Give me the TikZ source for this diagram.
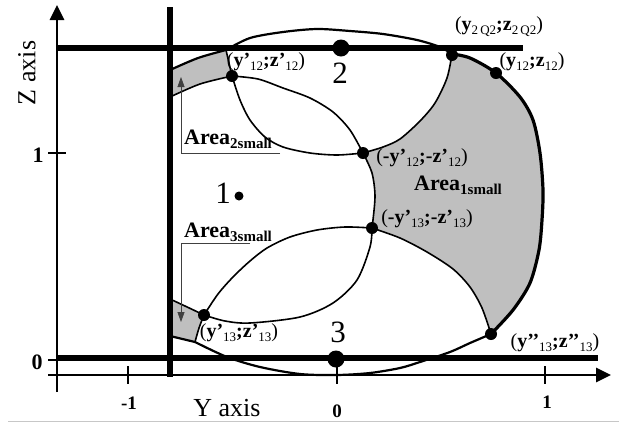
\documentclass[tikz,border=0pt]{standalone}
\usepackage{fontspec}
\setmainfont{Liberation Serif}
\usetikzlibrary{arrows.meta}
\newcommand{\mysb}[2][13]{\raisebox{-4pt}{\fontsize{#1}{#1}\selectfont #2}}
\begin{document}
\begin{tikzpicture}[x=1pt,y=-1pt,
  lbl/.style={font=\fontsize{20}{22}\selectfont, inner sep=0pt},
  bignum/.style={font=\fontsize{31}{33}\selectfont, inner sep=0pt},
  axlbl/.style={font=\fontsize{26}{28}\selectfont, inner sep=0pt},
  tickx/.style={font=\bfseries\fontsize{19}{21}\selectfont, inner sep=0pt},
  tickz/.style={font=\bfseries\fontsize{22}{24}\selectfont, inner sep=0pt},
  arealbl/.style={font=\bfseries\fontsize{22}{24}\selectfont, inner sep=0pt},
  arcline/.style={line width=1.6pt},
  outerline/.style={line width=2.2pt},
  outerthick/.style={line width=3.2pt},
  thickline/.style={line width=6pt},
  axisline/.style={line width=2.8pt},
  leader/.style={line width=0.8pt, draw=black!75},
  grayfill/.style={fill=black!25},
  ptdot/.style={circle, fill=black, inner sep=0pt, minimum size=12pt},
  bigdot/.style={circle, fill=black, inner sep=0pt, minimum size=17pt},
  smalldot/.style={circle, fill=black, inner sep=0pt, minimum size=9pt},
  tickline/.style={line width=2.2pt}
]
\useasboundingbox (0,0) rectangle (619,424);
\fill[white] (0,0) rectangle (619,424);
\draw[black!22, line width=1pt] (8,421) -- (619,421);

% ---- gray areas
\fill[grayfill] plot[smooth] coordinates {(363,153) (383,147) (400,139) (420,121) (435,103) (447,78) (452,54)}
  -- plot[smooth] coordinates {(452,54) (470,58) (496,73) (520,97) (533,120) (540,153) (543,190) (542,220) (539,250) (530,283) (513,310) (491,334)}
  -- plot[smooth] coordinates {(491,334) (482,308) (470,287) (453,269) (427,252) (400,238) (372,228)}
  -- plot[smooth] coordinates {(372,228) (375,197) (372,173) (363,153)} -- cycle;
\fill[grayfill] plot[smooth] coordinates {(170,70) (198,58) (226,50)}
  -- plot[smooth] coordinates {(226,50) (229,63) (232,76)}
  -- plot[smooth] coordinates {(232,76) (200,84) (170,97)} -- cycle;
\fill[grayfill] plot[smooth] coordinates {(204,315) (185,306) (170,299)}
  -- (170,336)
  -- plot[smooth] coordinates {(170,336) (195,342)}
  -- plot[smooth] coordinates {(195,342) (199,328) (204,315)} -- cycle;

% ---- circle 1 arcs
\draw[arcline] plot[smooth] coordinates {(170,97) (200,84) (232,76)};
\draw[arcline] plot[smooth] coordinates {(232,76) (258,79) (283,88) (310,98) (333,112) (350,130) (363,153)};
\draw[arcline] plot[smooth] coordinates {(363,153) (372,173) (375,197) (372,228)};
\draw[arcline] plot[smooth] coordinates {(372,228) (370,247) (357,280) (333,303) (300,317) (250,323) (225,321) (204,315)};
\draw[arcline] plot[smooth] coordinates {(204,315) (185,306) (170,299)};
% ---- circle 2 arcs
\draw[arcline] plot[smooth] coordinates {(226,50) (229,63) (232,76)};
\draw[arcline] plot[smooth] coordinates {(232,76) (240,100) (250,120) (265,137) (283,147) (310,153) (337,155) (363,153)};
\draw[arcline] plot[smooth] coordinates {(363,153) (383,147) (400,139) (420,121) (435,103) (447,78) (452,54)};
% ---- circle 3 arcs
\draw[arcline] plot[smooth] coordinates {(195,342) (199,328) (204,315)};
\draw[arcline] plot[smooth] coordinates {(204,315) (218,294) (233,277) (250,261) (267,248) (290,237) (317,230) (345,227) (372,228)};
\draw[arcline] plot[smooth] coordinates {(372,228) (400,238) (427,252) (453,269) (470,287) (482,308) (491,334)};

% ---- outer boundary
\draw[outerline] plot[smooth] coordinates {(170,70) (198,58) (226,50)};
\draw[outerline] plot[smooth] coordinates {(226,50) (250,38) (283,32) (317,29) (350,31) (383,34) (417,40) (440,47) (452,54)};
\draw[outerthick] plot[smooth] coordinates {(452,54) (470,58) (496,73) (520,97) (533,120) (540,153) (543,190) (542,220) (539,250) (530,283) (513,310) (491,334)};
\draw[outerline] plot[smooth] coordinates {(491,334) (470,343) (450,352) (420,362) (400,368) (370,373) (337,375) (300,374) (260,367) (227,357) (195,342)};
\draw[outerline] plot[smooth] coordinates {(195,342) (170,336)};

% ---- axes
\coordinate (zbot) at (57,392);
\coordinate (ztop) at (57,5);
\coordinate (xleft) at (48,375);
\coordinate (xright) at (611,375);
\draw[axisline, -{Triangle[length=15pt,width=14pt]}] (zbot) -- (ztop);
\draw[axisline, -{Triangle[length=15pt,width=14pt]}] (xleft) -- (xright);
\coordinate (tx1a) at (128,366); \coordinate (tx1b) at (128,384);
\coordinate (tx2a) at (337,366); \coordinate (tx2b) at (337,384);
\coordinate (tx3a) at (545,366); \coordinate (tx3b) at (545,384);
\coordinate (tz1a) at (48,153); \coordinate (tz1b) at (66,153);
\coordinate (tz0a) at (48,360); \coordinate (tz0b) at (58,360);
\draw[tickline] (tx1a) -- (tx1b);
\draw[tickline] (tx2a) -- (tx2b);
\draw[tickline] (tx3a) -- (tx3b);
\draw[tickline] (tz1a) -- (tz1b);
\draw[tickline] (tz0a) -- (tz0b);

% ---- thick lines
\coordinate (tl1) at (57,48); \coordinate (tl2) at (523,48);
\coordinate (bl1) at (57,358); \coordinate (bl2) at (598,358);
\coordinate (vl1) at (170,7); \coordinate (vl2) at (170,377);
\draw[thickline] (tl1) -- (tl2);
\draw[thickline] (bl1) -- (bl2);
\draw[thickline] (vl1) -- (vl2);

% ---- dots
\node[ptdot] (pA) at (232,76) {};
\node[ptdot] (pB) at (363,153) {};
\node[ptdot] (pC) at (372,228) {};
\node[ptdot] (pD) at (204,315) {};
\node[ptdot] (pE) at (452,55) {};
\node[ptdot] (pF) at (496,73) {};
\node[ptdot] (pG) at (491,334) {};
\node[bigdot] (c2) at (341,48) {};
\node[bigdot] (c3) at (336,359) {};
\node[smalldot] (c1) at (239,196) {};

% ---- numbers
\node[bignum] (n1) at (223,193) {1};
\node[bignum] (n2) at (340,73) {2};
\node[bignum] (n3) at (338,332) {3};

% ---- axis labels
\node[axlbl, rotate=90] (zlab) at (27,73) {Z axis};
\node[axlbl] (ylab) at (227,408) {Y axis};
\node[tickx] (xm1) at (129,403) {-1};
\node[tickx] (x0) at (337,411) {0};
\node[tickx] (x1) at (547,402) {1};
\node[tickz] (z1) at (38,155) {1};
\node[tickz] (z0) at (37,362) {0};

% ---- point labels
\node[lbl] (lA) at (266,62) {(\textbf{y’}\mysb{12}\textbf{;z’}\mysb{12})};
\node[lbl] (lE) at (499,27) {(\textbf{y}\mysb{2\,Q2}\textbf{;z}\mysb{2\,Q2})};
\node[lbl] (lF) at (532,62) {(\textbf{y}\mysb{12}\textbf{;z}\mysb{12})};
\node[lbl] (lB) at (422,158) {(\textbf{-y’}\mysb{12}\textbf{;-z’}\mysb{12})};
\node[lbl] (lC) at (427,219) {(\textbf{-y’}\mysb{13}\textbf{;-z’}\mysb{13})};
\node[lbl] (lD) at (239,333) {(\textbf{y’}\mysb{13}\textbf{;z’}\mysb{13})};
\node[lbl] (lG) at (555,343) {(\textbf{y’’}\mysb{13}\textbf{;z’’}\mysb{13})};

% ---- area labels
\node[arealbl] (a1) at (458,185) {Area\mysb[15]{1small}};
\node[arealbl] (a2) at (228,139) {Area\mysb[15]{2small}};
\node[arealbl] (a3) at (228,232) {Area\mysb[15]{3small}};

% ---- leaders
\coordinate (ld2a) at (280,153); \coordinate (ld2b) at (181,153); \coordinate (ld2c) at (181,77);
\coordinate (ld3a) at (250,243); \coordinate (ld3b) at (181,243); \coordinate (ld3c) at (181,322);
\draw[leader, -{Triangle[length=10pt,width=7pt]}] (ld2a) -- (ld2b) -- (ld2c);
\draw[leader, -{Triangle[length=10pt,width=7pt]}] (ld3a) -- (ld3b) -- (ld3c);
\end{tikzpicture}
\end{document}
